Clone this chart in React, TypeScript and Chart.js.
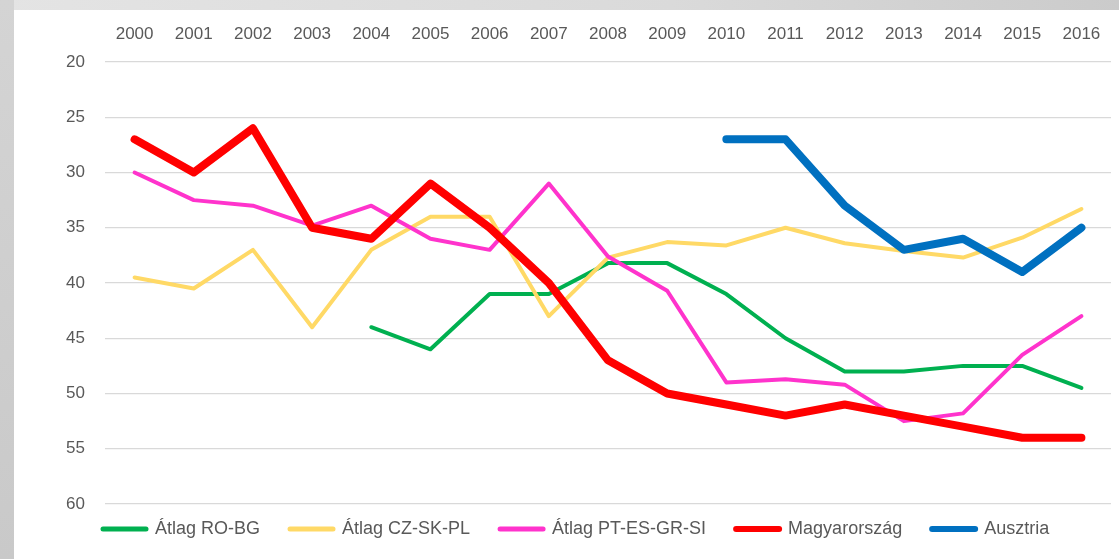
import React, { useEffect, useRef } from "react";
import { Chart, registerables } from "chart.js";

Chart.register(...registerables);

const years = ["2000", "2001", "2002", "2003", "2004", "2005", "2006", "2007", "2008", "2009", "2010", "2011", "2012", "2013", "2014", "2015", "2016"];

const atlagRoBg = [null, null, null, null, 44, 46, 41, 41, 38.2, 38.2, 41, 45, 48, 48, 47.5, 47.5, 49.5];
const atlagCzSkPl = [39.5, 40.5, 37, 44, 37, 34, 34, 43, 37.7, 36.3, 36.6, 35, 36.4, 37.1, 37.7, 35.9, 33.3];
const atlagPtEsGrSi = [30, 32.5, 33, 34.8, 33, 36, 37, 31, 37.6, 40.7, 49, 48.7, 49.2, 52.5, 51.8, 46.5, 43];
const magyarorszag = [27, 30, 26, 35, 36, 31, 35, 40, 47, 50, 51, 52, 51, 52, 53, 54, 54];
const ausztria = [null, null, null, null, null, null, null, null, null, null, 27, 27, 33, 37, 36, 39, 35];

const seriesNames = ["Átlag RO-BG", "Átlag CZ-SK-PL", "Átlag PT-ES-GR-SI", "Magyarország", "Ausztria"];
const seriesValues = [atlagRoBg, atlagCzSkPl, atlagPtEsGrSi, magyarorszag, ausztria];

const yMin = 20;
const yMax = 60;
const yStep = 5;

const seriesColors = ["#00B050", "#FFD966", "#FF33CC", "#FF0000", "#0070C0"];
const seriesWidths = [4, 4, 4, 8, 8];
const legendWidths = [5, 5, 5, 6, 6];
const drawOrder = [5, 4, 3, 2, 1];

const FONT = "'Liberation Sans', Arial, sans-serif";
const TEXT = "#595959";

export default function App() {
  const ref = useRef<HTMLCanvasElement>(null);

  useEffect(() => {
    document.body.style.margin = "0";
    const legendShift = {
      id: "legendShift",
      afterLayout(chart: any) {
        const lg = chart.legend;
        if (lg) {
          const h = lg.height;
          const w = lg.width;
          lg.top = 480;
          lg.bottom = 480 + h;
          lg.left = 59;
          lg.right = 59 + w;
        }
      },
    };
    const chart = new Chart(ref.current!, {
      type: "line",
      data: {
        labels: years,
        datasets: seriesNames.map((name, i) => ({
          label: name,
          data: seriesValues[i] as any,
          borderColor: seriesColors[i],
          backgroundColor: seriesColors[i],
          borderWidth: seriesWidths[i],
          borderCapStyle: "round",
          borderJoinStyle: "round",
          pointRadius: 0,
          pointHoverRadius: 0,
          pointStyle: "line",
          tension: 0,
          fill: false,
          spanGaps: false,
          order: drawOrder[i],
        })),
      },
      options: {
        animation: false,
        responsive: false,
        maintainAspectRatio: false,
        layout: { padding: { left: 20, right: 8, top: 0, bottom: 0 } },
        plugins: {
          tooltip: { enabled: false },
          title: { display: false },
          legend: {
            position: "bottom",
            align: "start",
            labels: {
              usePointStyle: true,
              pointStyleWidth: 43,
              padding: 30,
              color: TEXT,
              font: { family: FONT, size: 18 },
              sort: (a: any, b: any) => a.datasetIndex - b.datasetIndex,
              generateLabels: (c: any) =>
                c.data.datasets.map((ds: any, i: number) => ({
                  text: ds.label,
                  datasetIndex: i,
                  strokeStyle: ds.borderColor,
                  fillStyle: ds.borderColor,
                  lineWidth: legendWidths[i],
                  lineCap: "round",
                  pointStyle: "line",
                  hidden: false,
                  fontColor: TEXT,
                })),
            },
          },
        },
        scales: {
          x: {
            position: "top",
            offset: true,
            grid: { display: false, drawTicks: false },
            border: { display: false },
            ticks: {
              padding: 17,
              color: TEXT,
              font: { family: FONT, size: 17 },
              autoSkip: false,
              maxRotation: 0,
            },
            afterFit: (s: any) => {
              s.height = 52;
            },
          },
          y: {
            reverse: true,
            min: yMin,
            max: yMax,
            ticks: {
              stepSize: yStep,
              padding: 20,
              color: TEXT,
              font: { family: FONT, size: 17 },
            },
            grid: { color: "#d9d9d9", lineWidth: 1.3, drawTicks: false },
            border: { display: false },
            afterFit: (s: any) => {
              s.width = 71;
            },
          },
        },
      } as any,
      plugins: [legendShift],
    });
    return () => chart.destroy();
  }, []);

  return (
    <div
      style={{
        position: "fixed",
        left: 0,
        top: 0,
        width: 1119,
        height: 559,
        overflow: "hidden",
        background: "linear-gradient(to right, #e4e4e4 0%, #dadada 60%, #cbcbcb 100%)",
      }}
    >
      <div style={{ position: "absolute", left: 0, top: 0, width: 14, height: 559, background: "linear-gradient(to bottom, #d4d4d4, #c9c9c9)" }} />
      <div style={{ position: "absolute", left: 14, top: 10, width: 1105, height: 549, background: "#ffffff", overflow: "hidden" }}>
        <canvas ref={ref} width={1105} height={552} style={{ display: "block", width: 1105, height: 552 }} />
      </div>
    </div>
  );
}
